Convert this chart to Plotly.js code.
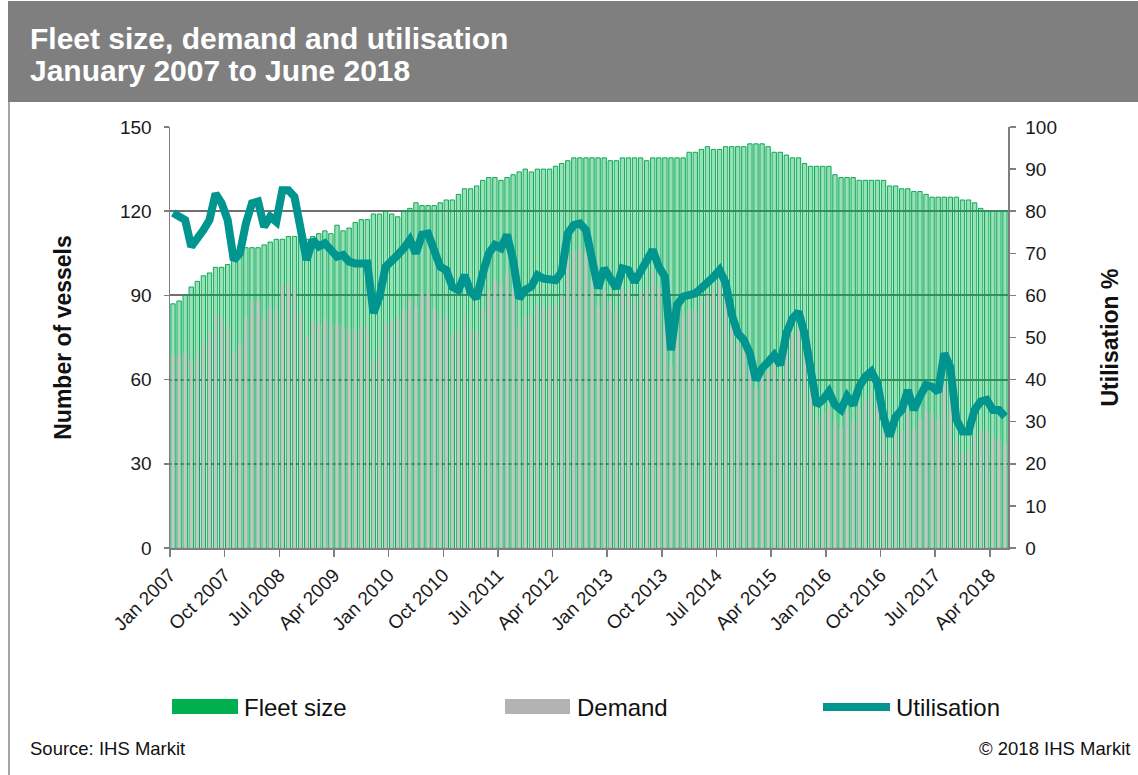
<!DOCTYPE html>
<html>
<head>
<meta charset="utf-8">
<script src="https://cdn.plot.ly/plotly-3.0.1.min.js"></script>
<style>
  html, body { margin: 0; padding: 0; background: #ffffff; }
  #chart { width: 1138px; height: 775px; }
</style>
</head>
<body>
<div id="chart"></div>
<script>
// Monthly data, January 2007 to June 2018 (138 months)
const fleetSize = [
  87, 88, 90, 93, 95, 97, 98, 100, 100, 101, 103, 104,
  107, 107, 107, 108, 109, 110, 110, 111, 111, 112, 110, 111,
  112, 113, 112, 115, 113, 114, 116, 117, 117, 119, 119, 120,
  119, 118, 120, 121, 123, 122, 122, 122, 123, 124, 124, 126,
  128, 128, 129, 131, 132, 132, 131, 132, 133, 134, 135, 134,
  135, 135, 135, 136, 137, 138, 139, 139, 139, 139, 139, 139,
  138, 138, 139, 139, 139, 139, 138, 139, 139, 139, 139, 139,
  139, 141, 141, 142, 143, 142, 142, 143, 143, 143, 143, 144,
  144, 144, 143, 141, 141, 140, 139, 139, 137, 136, 136, 136,
  136, 133, 132, 132, 132, 131, 131, 131, 131, 131, 129, 129,
  128, 128, 127, 127, 126, 125, 125, 125, 125, 125, 124, 124,
  123, 121, 120, 120, 120, 120
];

const demand = [
  69, 69, 70, 67, 69, 73, 77, 84, 82, 79, 70, 73,
  82, 88, 88, 82, 86, 85, 94, 94, 92, 84, 75, 81,
  80, 82, 79, 80, 79, 78, 78, 79, 79, 67, 71, 80,
  81, 82, 85, 89, 86, 91, 91, 85, 82, 82, 76, 77,
  83, 78, 77, 85, 92, 95, 94, 98, 91, 79, 83, 83,
  87, 86, 86, 87, 90, 103, 106, 107, 105, 95, 86, 92,
  88, 85, 92, 92, 88, 91, 93, 99, 93, 89, 65, 80,
  83, 85, 85, 88, 90, 92, 94, 90, 79, 73, 71, 67,
  57, 61, 63, 65, 61, 71, 76, 78, 70, 56, 46, 48,
  50, 45, 43, 48, 45, 50, 53, 55, 51, 41, 34, 40,
  42, 48, 42, 46, 49, 48, 46, 58, 54, 38, 34, 34,
  40, 42, 42, 39, 39, 37
];

const utilisation = [
  79.6, 78.7, 77.9, 71.6, 73.2, 75.5, 77.9, 84.2, 81.9, 77.9, 68.4, 70.0,
  77.1, 81.9, 82.3, 76.3, 78.7, 77.5, 85.0, 85.0, 83.4, 75.5, 68.4, 73.2,
  71.6, 72.4, 70.4, 69.2, 69.6, 68.0, 67.6, 67.5, 67.6, 55.8, 59.7, 66.8,
  68.0, 69.6, 71.2, 73.2, 70.0, 74.4, 74.7, 70.0, 66.8, 66.0, 62.0, 61.3,
  64.8, 60.9, 59.3, 65.2, 70.0, 72.0, 71.2, 74.4, 68.4, 59.3, 61.3, 62.1,
  64.8, 64.0, 63.6, 63.6, 65.6, 74.7, 76.7, 77.1, 75.5, 68.4, 61.7, 66.4,
  63.6, 61.7, 66.4, 66.0, 63.2, 65.6, 67.6, 70.8, 66.8, 64.4, 47.0, 57.7,
  59.7, 60.1, 60.5, 61.7, 62.8, 64.4, 66.0, 63.0, 55.5, 51.0, 49.4, 46.2,
  39.9, 42.7, 44.2, 45.8, 43.5, 50.9, 54.5, 56.1, 50.9, 41.5, 34.0, 35.2,
  37.1, 34.0, 32.8, 36.0, 34.0, 38.3, 40.7, 41.9, 39.1, 31.2, 26.5, 31.2,
  32.8, 37.5, 32.8, 36.0, 38.7, 38.3, 37.1, 46.2, 43.0, 30.5, 27.7, 27.7,
  32.8, 34.8, 35.2, 32.8, 32.8, 31.2
];

const tickLabels = [
  'Jan 2007', 'Oct 2007', 'Jul 2008', 'Apr 2009', 'Jan 2010', 'Oct 2010',
  'Jul 2011', 'Apr 2012', 'Jan 2013', 'Oct 2013', 'Jul 2014', 'Apr 2015',
  'Jan 2016', 'Oct 2016', 'Jul 2017', 'Apr 2018'
];
const monthsPerTick = 9;

// month index -> bar centred inside its month slot
const xMonth = fleetSize.map((_, i) => i + 0.5);
const tickVals = tickLabels.map((_, k) => k * monthsPerTick);

const FONT = 'Liberation Sans, Arial, Helvetica, sans-serif';
const GREEN = '#00b050';
const TEAL = '#00958f';
const AXIS = '#7f7f7f';

const traces = [
  {
    type: 'bar', name: 'Fleet size', x: xMonth, y: fleetSize, width: 0.72,
    marker: { color: 'rgba(0,176,80,0.40)', line: { color: 'rgba(0,168,76,0.95)', width: 1 } },
    showlegend: false, hoverinfo: 'x+y'
  },
  {
    type: 'bar', name: 'Demand', x: xMonth, y: demand, width: 0.5,
    marker: { color: 'rgba(196,196,196,0.92)', line: { width: 0 } },
    showlegend: false, hoverinfo: 'x+y'
  },
  {
    type: 'scatter', mode: 'lines', name: 'Utilisation', x: xMonth, y: utilisation,
    yaxis: 'y2', line: { color: TEAL, width: 8 },
    showlegend: false
  }
];

// paper-coordinate helpers (plot area: x 170..1008, y 127..548)
const L = 170, R = 1008, T = 127, B = 548;
const px = v => (v - L) / (R - L);
const py = v => (B - v) / (B - T);

const shapes = [
  { type: 'rect', xref: 'paper', yref: 'paper', x0: px(8), x1: px(1140), y0: py(102), y1: py(1),
    fillcolor: '#7f7f7f', line: { width: 0 }, layer: 'below' },
  { type: 'line', xref: 'paper', yref: 'paper', x0: px(9), x1: px(9), y0: py(102), y1: py(776),
    line: { color: '#a6a6a6', width: 2 } },
  { type: 'rect', xref: 'paper', yref: 'paper', x0: px(172), x1: px(238), y0: py(714), y1: py(699),
    fillcolor: GREEN, line: { width: 0 } },
  { type: 'rect', xref: 'paper', yref: 'paper', x0: px(505), x1: px(570), y0: py(714), y1: py(699),
    fillcolor: '#b3b3b3', line: { width: 0 } },
  { type: 'line', xref: 'paper', yref: 'paper', x0: px(823), x1: px(890), y0: py(707), y1: py(707),
    line: { color: TEAL, width: 8 } }
];

const legendFont = { family: FONT, size: 24, color: '#111111' };
const noteFont = { family: FONT, size: 18.5, color: '#111111' };
const annotations = [
  { text: '<b>January 2007 to June 2018</b>', xref: 'paper', yref: 'paper', x: px(28), y: py(70), xanchor: 'left', yanchor: 'middle', showarrow: false,
    font: { family: FONT, size: 30, color: '#ffffff' } },
  { text: 'Fleet size', xref: 'paper', yref: 'paper', x: px(242), y: py(707), xanchor: 'left', yanchor: 'middle', showarrow: false, font: legendFont },
  { text: 'Demand', xref: 'paper', yref: 'paper', x: px(575), y: py(707), xanchor: 'left', yanchor: 'middle', showarrow: false, font: legendFont },
  { text: 'Utilisation', xref: 'paper', yref: 'paper', x: px(894), y: py(707), xanchor: 'left', yanchor: 'middle', showarrow: false, font: legendFont },
  { text: 'Source: IHS Markit', xref: 'paper', yref: 'paper', x: px(28), y: py(748), xanchor: 'left', yanchor: 'middle', showarrow: false, font: noteFont },
  { text: '\u00a9 2018 IHS Markit', xref: 'paper', yref: 'paper', x: px(1132), y: py(748), xanchor: 'right', yanchor: 'middle', showarrow: false, font: noteFont }
];

const tickFont = { family: FONT, size: 19, color: '#1a1a1a' };

const layout = {
  width: 1138, height: 775,
  margin: { l: L, r: 1138 - R, t: T, b: 775 - B, pad: 0 },
  paper_bgcolor: '#ffffff', plot_bgcolor: '#ffffff',
  barmode: 'overlay',
  showlegend: false,
  title: {
    text: 'Fleet size, demand and utilisation',
    font: { family: FONT, size: 30, color: '#ffffff', weight: 'bold' },
    x: 30 / 1138, xref: 'container', xanchor: 'left',
    y: 1 - 38 / 775, yref: 'container', yanchor: 'middle'
  },
  xaxis: {
    range: [0, 138], tickvals: tickVals, ticktext: tickLabels, tickangle: -45,
    ticks: 'outside', ticklen: 7, tickcolor: AXIS, tickwidth: 1.5,
    showline: true, linecolor: AXIS, linewidth: 1.5, showgrid: false, zeroline: false,
    tickfont: tickFont, fixedrange: true
  },
  yaxis: {
    range: [0, 150], tick0: 0, dtick: 30,
    showgrid: true, gridcolor: '#6f6f6f', gridwidth: 2,
    showline: true, linecolor: AXIS, linewidth: 1.5, zeroline: false,
    ticks: 'outside', ticklen: 5, tickcolor: AXIS, tickwidth: 1.5,
    tickfont: tickFont, ticklabelstandoff: 8,
    title: { text: 'Number of vessels', font: { family: FONT, size: 23, color: '#111111', weight: 'bold' }, standoff: 42 },
    fixedrange: true
  },
  yaxis2: {
    overlaying: 'y', side: 'right', range: [0, 100], tick0: 0, dtick: 10,
    showgrid: false, showline: true, linecolor: AXIS, linewidth: 1.5, zeroline: false,
    ticks: 'outside', ticklen: 6, tickcolor: AXIS, tickwidth: 1.5,
    tickfont: tickFont, ticklabelstandoff: 6,
    title: { text: 'Utilisation %', font: { family: FONT, size: 23, color: '#111111', weight: 'bold' }, standoff: 46 },
    fixedrange: true
  },
  shapes: shapes,
  annotations: annotations
};

Plotly.newPlot('chart', traces, layout, { displayModeBar: false, staticPlot: true });
</script>
</body>
</html>
